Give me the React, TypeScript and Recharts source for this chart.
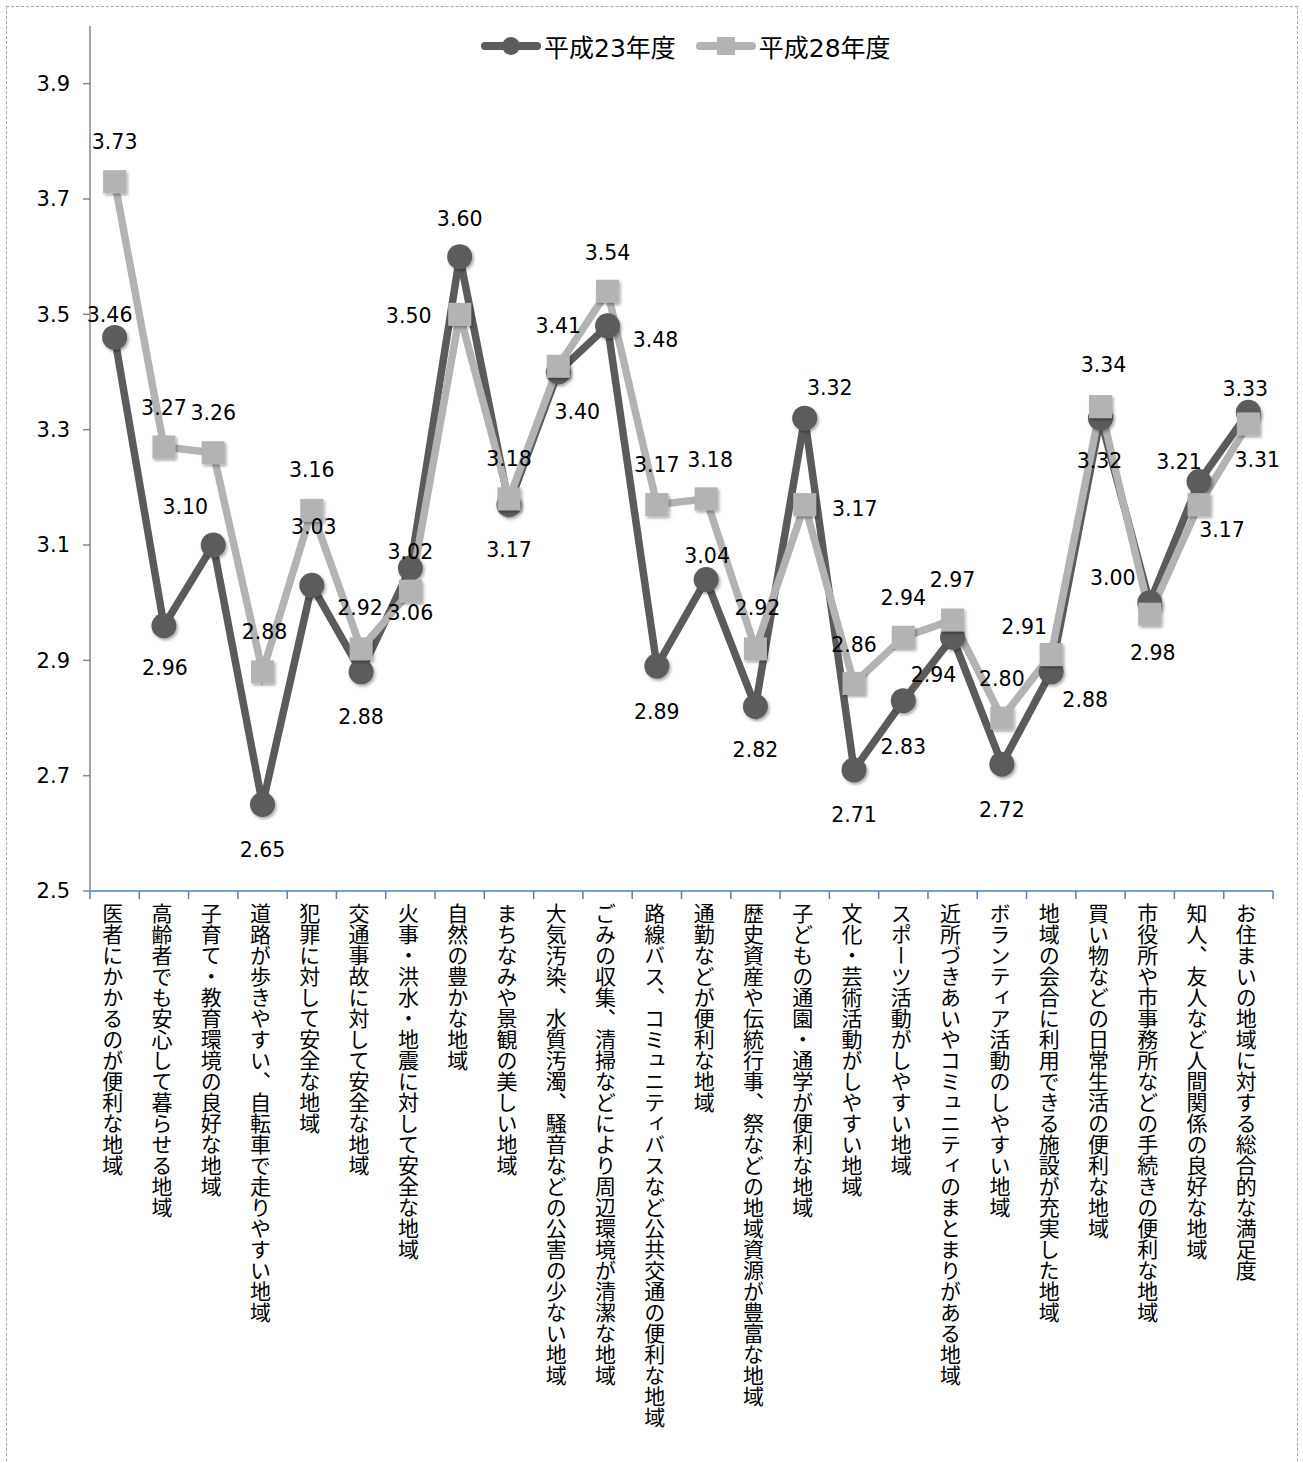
import React from 'react';
import { LineChart, Line, XAxis, YAxis, Legend, LabelList } from 'recharts';

const categories = [
  '医者にかかるのが便利な地域',
  '高齢者でも安心して暮らせる地域',
  '子育て・教育環境の良好な地域',
  '道路が歩きやすい、自転車で走りやすい地域',
  '犯罪に対して安全な地域',
  '交通事故に対して安全な地域',
  '火事・洪水・地震に対して安全な地域',
  '自然の豊かな地域',
  'まちなみや景観の美しい地域',
  '大気汚染、水質汚濁、騒音などの公害の少ない地域',
  'ごみの収集、清掃などにより周辺環境が清潔な地域',
  '路線バス、コミュニティバスなど公共交通の便利な地域',
  '通勤などが便利な地域',
  '歴史資産や伝統行事、祭などの地域資源が豊富な地域',
  '子どもの通園・通学が便利な地域',
  '文化・芸術活動がしやすい地域',
  'スポーツ活動がしやすい地域',
  '近所づきあいやコミュニティのまとまりがある地域',
  'ボランティア活動のしやすい地域',
  '地域の会合に利用できる施設が充実した地域',
  '買い物などの日常生活の便利な地域',
  '市役所や市事務所などの手続きの便利な地域',
  '知人、友人など人間関係の良好な地域',
  'お住まいの地域に対する総合的な満足度',
];

const h23 = [3.46, 2.96, 3.10, 2.65, 3.03, 2.88, 3.06, 3.60, 3.17, 3.40, 3.48, 2.89, 3.04, 2.82, 3.32, 2.71, 2.83, 2.94, 2.72, 2.88, 3.32, 3.00, 3.21, 3.33];
const h28 = [3.73, 3.27, 3.26, 2.88, 3.16, 2.92, 3.02, 3.50, 3.18, 3.41, 3.54, 3.17, 3.18, 2.92, 3.17, 2.86, 2.94, 2.97, 2.80, 2.91, 3.34, 2.98, 3.17, 3.31];

const seriesNames = ['平成23年度', '平成28年度'];
const yTicks = [2.5, 2.7, 2.9, 3.1, 3.3, 3.5, 3.7, 3.9];
const yDomain = [2.5, 4.0];

// label placement relative to each point (dx, dy)
const labelOffsets23 = [
  [-5, -22], [1, 42], [-28, -38], [0, 45], [2, -58], [0, 45], [0, 45], [0, -38], [0, 45], [19, 40], [48, 14], [0, 46],
  [1, -24], [0, 44], [25, -30], [0, 45], [0, 46], [-19, 38], [0, 46], [34, 28], [-1, 43], [-37, -25], [-20, -20], [-3, -23],
];
const labelOffsets28 = [
  [0, -40], [0, -39], [0, -40], [2, -40], [0, -40], [-1, -41], [0, -39], [-51, 2], [0, -40], [0, -40], [0, -38], [0, -40],
  [4, -39], [2, -41], [50, 4], [0, -38], [0, -39], [0, -40], [0, -39], [-27, -28], [3, -42], [3, 39], [23, 25], [9, 36],
];

const data = categories.map((name, i) => ({ name, h23: h23[i], h28: h28[i] }));

const W = 1303;
const H = 1463;
const M = { top: 26, right: 30, left: 0, bottom: 0 };
const Y_W = 90;
const X_H = 572;
const PLOT_W = W - M.left - M.right - Y_W;
const BW = PLOT_W / categories.length;

const DARK = '#5b5b5b';
const LIGHT = '#b3b3b3';
const NUM_FONT = '"DejaVu Sans", "Noto Sans CJK JP", sans-serif';
const JP_FONT = '"Noto Sans CJK JP", sans-serif';

const CategoryTick = (props: any) => {
  const { x, y, payload, index } = props;
  const last = index === categories.length - 1;
  return (
    <g>
      <line x1={x - BW / 2} x2={x - BW / 2} y1={y} y2={y + 8} stroke="#4f81bd" strokeWidth={1.5} />
      {last && <line x1={x + BW / 2} x2={x + BW / 2} y1={y} y2={y + 8} stroke="#4f81bd" strokeWidth={1.5} />}
      <text
        x={x - 2}
        y={y + 12}
        fontSize={21}
        fontFamily={JP_FONT}
        fill="#000"
        style={{ writingMode: 'vertical-rl' } as any}
      >
        {payload.value}
      </text>
    </g>
  );
};

const makeLabel = (offs: number[][]) => (props: any) => {
  const { x, y, index, value } = props;
  if (x == null || y == null || value == null) return null;
  const o = offs[index] || [0, -40];
  return (
    <text
      key={`l-${index}`}
      x={x + o[0]}
      y={y + o[1]}
      textAnchor="middle"
      dominantBaseline="central"
      fontSize={20.5}
      fontFamily={NUM_FONT}
      fill="#000"
    >
      {Number(value).toFixed(2)}
    </text>
  );
};

const CircleDot = (props: any) => {
  const { cx, cy, index } = props;
  if (cx == null || cy == null) return <g key={`c-${index}`} />;
  return <circle key={`c-${index}`} cx={cx} cy={cy} r={12.5} fill={DARK} filter="url(#mshadow)" />;
};

const SquareDot = (props: any) => {
  const { cx, cy, index } = props;
  if (cx == null || cy == null) return <g key={`s-${index}`} />;
  return <rect key={`s-${index}`} x={cx - 11.5} y={cy - 11.5} width={23} height={23} fill={LIGHT} filter="url(#mshadow)" />;
};

const LegendContent = () => (
  <div style={{ display: 'flex', alignItems: 'center', fontFamily: NUM_FONT, fontSize: 25, color: '#000', whiteSpace: 'nowrap' }}>
    <div style={{ display: 'flex', alignItems: 'center', marginRight: 20 }}>
      <svg width={60} height={24}>
        <line x1={4} x2={56} y1={12} y2={12} stroke={DARK} strokeWidth={8} strokeLinecap="round" />
        <circle cx={30} cy={12} r={9} fill={DARK} />
      </svg>
      <span style={{ marginLeft: 3 }}>{seriesNames[0]}</span>
    </div>
    <div style={{ display: 'flex', alignItems: 'center' }}>
      <svg width={60} height={24}>
        <line x1={4} x2={56} y1={12} y2={12} stroke={LIGHT} strokeWidth={8} strokeLinecap="round" />
        <rect x={21} y={3} width={18} height={18} fill={LIGHT} />
      </svg>
      <span style={{ marginLeft: 3 }}>{seriesNames[1]}</span>
    </div>
  </div>
);

export default function App() {
  return (
    <div style={{ position: 'absolute', left: 0, top: 0, width: W, height: H, overflow: 'hidden', background: '#fff' }}>
      <svg width={0} height={0} style={{ position: 'absolute' }}>
        <defs>
          <filter id="mshadow" x="-50%" y="-50%" width="200%" height="200%">
            <feDropShadow dx={1.5} dy={2} stdDeviation={1.5} floodColor="#000" floodOpacity={0.35} />
          </filter>
        </defs>
      </svg>
      <div
        style={{
          position: 'absolute',
          left: 6,
          top: 6,
          width: 1292,
          height: 1480,
          border: '1.5px dashed #aaaaaa',
          boxSizing: 'border-box',
        }}
      />
      <div style={{ position: 'absolute', left: 0, top: 0 }}>
        <LineChart width={W} height={H} data={data} margin={M}>
          <XAxis
            dataKey="name"
            type="category"
            interval={0}
            height={X_H}
            padding={{ left: BW / 2, right: BW / 2 }}
            axisLine={{ stroke: '#4f81bd', strokeWidth: 1.5 }}
            tickLine={false}
            tickSize={0}
            tickMargin={0}
            tick={<CategoryTick />}
          />
          <YAxis
            type="number"
            width={Y_W}
            domain={yDomain}
            ticks={yTicks}
            interval={0}
            allowDataOverflow
            tickFormatter={(v: number) => v.toFixed(1)}
            axisLine={{ stroke: '#868686', strokeWidth: 1.5 }}
            tickLine={{ stroke: '#868686', strokeWidth: 1.5 }}
            tickSize={7}
            tickMargin={13}
            tick={{ fill: '#000', fontSize: 21, fontFamily: NUM_FONT }}
          />
          <Legend
            layout="horizontal"
            verticalAlign="middle"
            align="center"
            wrapperStyle={{ top: 28, left: 481, width: 'auto' }}
            content={<LegendContent />}
          />
          <Line
            dataKey="h23"
            name={seriesNames[0]}
            stroke={DARK}
            strokeWidth={7.5}
            dot={<CircleDot />}
            activeDot={false}
            isAnimationActive={false}
          />
          <Line
            dataKey="h28"
            name={seriesNames[1]}
            stroke={LIGHT}
            strokeWidth={7.5}
            dot={<SquareDot />}
            activeDot={false}
            isAnimationActive={false}
          />
          <Line dataKey="h23" stroke="none" dot={false} activeDot={false} legendType="none" isAnimationActive={false}>
            <LabelList dataKey="h23" content={makeLabel(labelOffsets23)} />
          </Line>
          <Line dataKey="h28" stroke="none" dot={false} activeDot={false} legendType="none" isAnimationActive={false}>
            <LabelList dataKey="h28" content={makeLabel(labelOffsets28)} />
          </Line>
        </LineChart>
      </div>
    </div>
  );
}
